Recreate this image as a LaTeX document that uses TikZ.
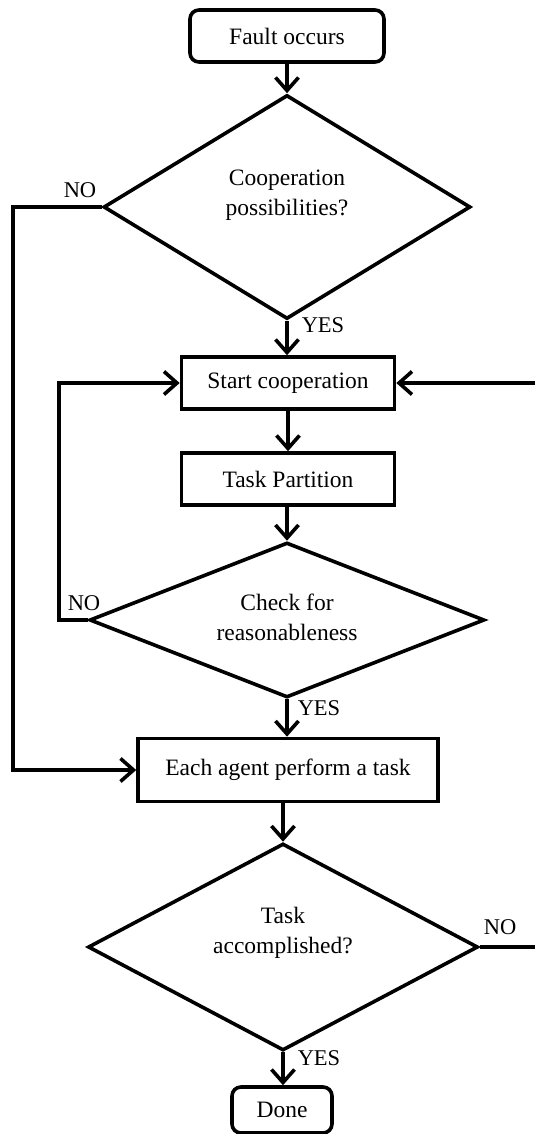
\documentclass[tikz,border=0pt]{standalone}
\usepackage{fontspec}
\setmainfont{Liberation Serif}
\usetikzlibrary{shapes.geometric,arrows.meta}
\tikzset{
  txt/.style={font=\fontsize{23.5pt}{30pt}\selectfont},
  box/.style={txt, draw, line width=3.6pt, inner sep=0pt},
  term/.style={box, rounded corners=9pt},
  dec/.style={draw, diamond, line width=3.6pt, inner sep=0pt},
  dtext/.style={txt, align=center},
  flow/.style={line width=3.6pt, -{Straight Barb[length=13pt,width=23pt]}},
  plain/.style={line width=3.6pt},
  lbl/.style={font=\fontsize{22.5pt}{26pt}\selectfont, inner sep=0pt}
}
\begin{document}
\begin{tikzpicture}[x=1pt,y=-1pt]
\useasboundingbox (0,0) rectangle (535,1134);
\node[term, minimum width=194pt, minimum height=52pt] (fault) at (287,36) {Fault occurs};
\node[dec, minimum width=367pt, minimum height=224pt,
      label={[dtext, yshift=12pt]center:Cooperation\\possibilities?}] (d1) at (287,207) {};
\node[box, minimum width=213pt, minimum height=52pt] (start) at (288,383) {Start cooperation};
\node[box, minimum width=213pt, minimum height=52pt] (part) at (288,479) {Task Partition};
\node[dec, minimum width=395pt, minimum height=155pt,
      label={[dtext, yshift=3pt]center:Check for\\reasonableness}] (d2) at (287,620) {};
\node[box, minimum width=300pt, minimum height=63pt] (each) at (288,770) {Each agent perform a task};
\node[dec, minimum width=390pt, minimum height=207pt,
      label={[dtext, yshift=14pt]center:Task\\accomplished?}] (d3) at (283,947) {};
\node[term, minimum width=100pt, minimum height=46pt] (done) at (282,1110) {Done};

\node[lbl] (no1) at (80,190) {NO};
\node[lbl] (no2) at (84,603) {NO};
\node[lbl] (no3) at (500,927) {NO};
\node[lbl] (yes1) at (323,325) {YES};
\node[lbl] (yes2) at (319,708) {YES};
\node[lbl] (yes3) at (319,1058) {YES};

\coordinate (l1) at (13,500);
\coordinate (l2) at (59,500);
\coordinate (r1) at (535,947);
\coordinate (r2) at (535,383);

\draw[flow] (fault.south -| d1.north) -- (d1.north);
\draw[flow] (d1.south) -- (d1.south |- start.north);
\draw[flow] (start.south) -- (part.north);
\draw[flow] (part.south -| d2.north) -- (d2.north);
\draw[flow] (d2.south) -- (d2.south |- each.north);
\draw[flow] (each.south -| d3.north) -- (d3.north);
\draw[flow] (d3.south) -- (d3.south |- done.north);

\draw[flow] (d1.west) -| (l1) |- (each.west);
\draw[flow] (d2.west) -| (l2) |- (start.west);
\draw[plain] (d3.east) -- (d3.east -| r1);
\draw[flow] (r2) -- (start.east);
\end{tikzpicture}
\end{document}
